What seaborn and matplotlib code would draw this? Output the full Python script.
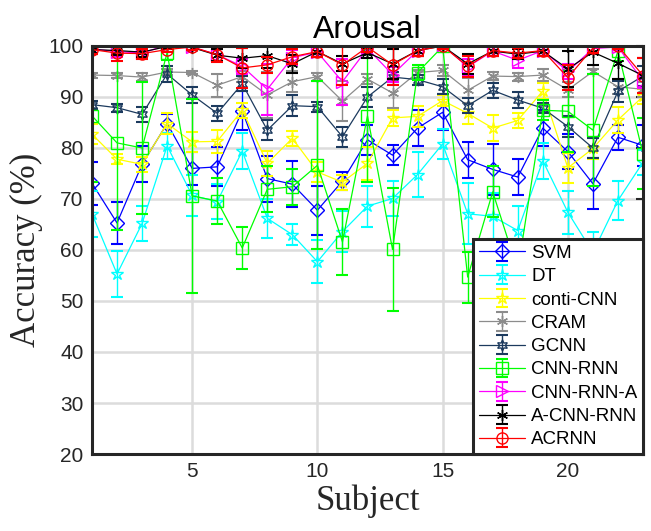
import numpy as np
import matplotlib
matplotlib.use('Agg')
import matplotlib.pyplot as plt
import seaborn as sns

subjects = list(range(1, 24))
methods = ['SVM', 'DT', 'conti-CNN', 'CRAM', 'GCNN', 'CNN-RNN', 'CNN-RNN-A', 'A-CNN-RNN', 'ACRNN']

svm = [73.1, 65.3, 76.8, 84.8, 76.0, 76.3, 87.3, 74.0, 72.9, 67.8, 73.5, 81.6, 78.6, 83.9, 87.0, 77.7, 75.8, 74.3, 83.9, 79.3, 73.0, 82.1, 80.5]
svm_err = [4.2, 4.2, 3.5, 1.8, 3.2, 3.8, 3.8, 4.5, 4.5, 4.8, 1.8, 3.0, 2.0, 3.5, 3.5, 3.5, 5.0, 3.5, 3.5, 3.5, 5.0, 2.5, 4.0]
dt = [67.1, 55.3, 65.2, 80.4, 70.7, 69.5, 79.4, 66.2, 63.0, 57.7, 63.6, 68.6, 70.1, 74.8, 80.8, 67.1, 66.6, 63.8, 77.5, 67.4, 59.5, 69.7, 77.2]
dt_err = [4.5, 4.5, 3.5, 2.5, 4.0, 3.5, 3.5, 3.8, 2.0, 4.2, 4.0, 4.0, 3.5, 4.5, 3.0, 6.0, 4.5, 4.8, 3.5, 4.2, 4.0, 3.8, 2.5]
conti = [82.7, 77.8, 76.8, 84.8, 81.2, 81.3, 87.4, 77.0, 81.9, 75.3, 73.3, 77.0, 85.9, 86.2, 89.3, 86.8, 83.9, 85.4, 91.2, 76.1, 79.9, 85.5, 90.1]
conti_err = [2.0, 1.0, 1.5, 2.0, 2.0, 2.2, 1.5, 2.5, 1.5, 2.0, 1.5, 3.2, 1.5, 2.0, 1.0, 2.0, 2.5, 1.5, 1.5, 3.0, 2.0, 2.5, 1.5]
cram = [94.3, 94.2, 93.9, 94.9, 94.8, 92.3, 94.0, 90.4, 93.0, 94.0, 89.2, 93.5, 90.8, 94.8, 95.2, 91.3, 94.1, 94.0, 94.3, 91.4, 95.0, 92.0, 91.5]
cram_err = [0.5, 0.5, 0.8, 0.5, 0.3, 2.3, 1.0, 4.5, 2.0, 0.8, 4.0, 1.0, 3.0, 0.5, 1.0, 2.5, 0.8, 0.8, 1.2, 1.5, 0.5, 1.5, 1.5]
gcnn = [88.5, 87.9, 86.6, 94.5, 90.4, 86.8, 92.6, 83.5, 88.3, 88.1, 82.2, 90.0, 93.9, 93.4, 92.0, 88.3, 91.3, 89.4, 87.8, 84.2, 80.0, 91.1, 94.1]
gcnn_err = [0.8, 0.8, 1.5, 1.5, 1.5, 1.5, 1.5, 2.0, 2.0, 1.0, 2.0, 2.0, 1.0, 1.0, 1.5, 1.5, 1.5, 1.5, 1.0, 2.0, 2.0, 2.0, 2.0]
cnn_rnn = [86.3, 81.0, 80.0, 98.7, 70.6, 69.6, 60.4, 71.9, 72.4, 76.6, 61.6, 86.3, 60.1, 94.8, 99.9, 54.7, 71.4, 56.0, 87.4, 87.2, 83.5, 99.0, 78.9]
cnn_rnn_err = [13, 17, 13, 1.5, 19, 4.5, 4.2, 4.5, 3.5, 16.5, 6.5, 13, 12, 1.5, 0.5, 5, 5, 6, 2, 8, 11, 2, 7]
cnn_rnn_a = [99.4, 98.9, 98.6, 100.2, 99.8, 98.3, 96.0, 91.5, 97.7, 98.8, 93.0, 99.5, 94.4, 99.1, 100.2, 95.9, 99.0, 97.2, 99.1, 95.0, 99.5, 99.8, 93.2]
cnn_rnn_a_err = [0.8, 1.0, 1.0, 0.5, 0.5, 1.2, 1.5, 5.0, 1.5, 1.0, 4.5, 1.0, 1.5, 1.0, 0.5, 1.5, 1.0, 1.5, 1.0, 1.5, 0.8, 0.5, 1.5]
a_cnn_rnn = [99.3, 99.1, 98.8, 99.9, 99.7, 98.2, 97.6, 98.1, 96.5, 98.9, 96.5, 98.7, 96.5, 99.1, 100.0, 96.5, 99.0, 98.4, 99.0, 95.5, 98.8, 96.6, 94.2]
a_cnn_rnn_err = [0.8, 0.8, 1.0, 0.5, 0.5, 1.2, 2.0, 2.5, 1.8, 1.0, 1.5, 1.0, 3.0, 1.0, 0.5, 2.0, 1.0, 1.0, 1.0, 3.5, 2.5, 3.0, 3.5]
acrnn = [99.3, 98.6, 98.5, 99.3, 99.8, 98.3, 95.7, 96.3, 97.9, 98.9, 96.3, 99.8, 96.3, 99.1, 100.0, 96.0, 99.1, 98.6, 99.1, 93.8, 99.6, 100.0, 94.2]
acrnn_err = [0.8, 1.5, 1.0, 0.5, 0.5, 1.5, 4.0, 1.5, 1.5, 1.0, 4.0, 1.0, 4.0, 1.0, 0.5, 2.0, 1.0, 1.0, 1.0, 2.5, 1.0, 0.5, 3.5]

means = [svm, dt, conti, cram, gcnn, cnn_rnn, cnn_rnn_a, a_cnn_rnn, acrnn]
errs = [svm_err, dt_err, conti_err, cram_err, gcnn_err, cnn_rnn_err, cnn_rnn_a_err, a_cnn_rnn_err, acrnn_err]

colors = ['#0000ff', '#00ffff', '#ffff00', '#8c8c8c', '#1c3a5e', '#00ff00', '#ff00ff', '#000000', '#ff0000']
markers = ['D', '*', '*', (6, 2, 0), (6, 1, 0), 's', '>', (6, 2, 0), 'o']
msizes = [7, 9, 9, 8, 8, 8, 8, 8, 8]

sns.set_theme(style='whitegrid')
plt.rcParams['font.family'] = ['Liberation Sans', 'DejaVu Sans']

fig = plt.figure(figsize=(6.51, 5.31), dpi=100)
ax = fig.add_axes([0.1413, 0.145, 0.8464, 0.7684])
ax.set_facecolor('white')

handles = []
for name, m, e, c, mk, ms in zip(methods, means, errs, colors, markers, msizes):
    eb = ax.errorbar(subjects, m, yerr=e, fmt='none', ecolor=c, elinewidth=1.0,
                     capsize=4, capthick=1.5)
    sns.lineplot(x=subjects, y=m, ax=ax, color=c, marker=mk, markersize=ms,
                 mfc='none', mec=c, mew=1.0, lw=0.9, legend=False)
    line = ax.lines[-1]
    handles.append((line, eb))

ax.set_xlim(1, 23)
ax.set_ylim(20, 100)
ax.set_xticks([5, 10, 15, 20])
ax.set_yticks(np.arange(20, 101, 10))
ax.grid(True, color='#dcdcdc', lw=1.8)
ax.tick_params(axis='both', labelsize=15, direction='in', length=5, width=1.5,
               color='#262626', top=True, right=True, labelcolor='#262626', pad=6)
for sp in ax.spines.values():
    sp.set_visible(True)
    sp.set_color('#262626')
    sp.set_linewidth(2.2)

ax.set_title('Arousal', fontsize=23, pad=6, color='black')
ax.set_xlabel('Subject', fontsize=25, family='Liberation Serif', labelpad=2, color='#262626')
ax.set_ylabel('Accuracy (%)', fontsize=25, family='Liberation Serif', labelpad=4, color='#262626')

leg = ax.legend(handles, methods, loc='lower right', fontsize=13.5, frameon=True,
                fancybox=False, borderaxespad=0, labelspacing=0.33,
                handlelength=2.5, handletextpad=0.3, borderpad=0.3)
leg.get_frame().set_edgecolor('#262626')
leg.get_frame().set_linewidth(2.2)
leg.get_frame().set_alpha(1)
for t in leg.get_texts():
    t.set_color('black')

plt.savefig('out.png', dpi=100)
plt.close()
